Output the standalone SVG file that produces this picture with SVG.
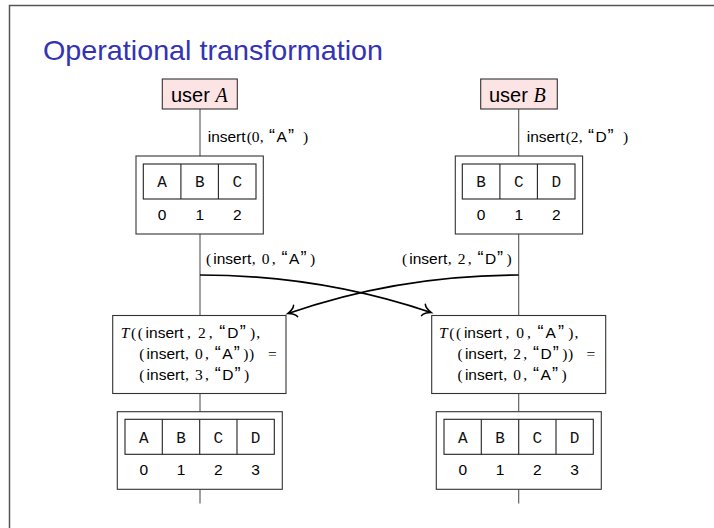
<svg xmlns="http://www.w3.org/2000/svg" width="714" height="528" viewBox="0 0 714 528">
<style>
  .frame{fill:none;stroke:#555;stroke-width:1.5}
  .title{font-family:"Liberation Sans","DejaVu Sans",sans-serif;font-size:28px;fill:#3333b3}
  .box{fill:#fff;stroke:#333;stroke-width:1.1}
  .user{fill:#fde4e4;stroke:#333;stroke-width:1.1}
  .cell{fill:none;stroke:#222;stroke-width:1.1}
  .lbl{font-family:"Liberation Sans","DejaVu Sans",sans-serif;font-size:15.5px;fill:#000}
  .m{font-family:"Liberation Serif","DejaVu Serif",serif}
  .mi{font-family:"Liberation Serif","DejaVu Serif",serif;font-style:italic}
  .q{font-size:18px}
  .ul{font-family:"Liberation Sans","DejaVu Sans",sans-serif;font-size:20px;fill:#000}
  .tt{font-family:"Liberation Mono","DejaVu Sans Mono",monospace;font-size:16px;text-anchor:middle;fill:#111}
  .idx{font-family:"Liberation Sans","DejaVu Sans",sans-serif;font-size:15.5px;text-anchor:middle;fill:#000}
  .vl{stroke:#555;stroke-width:1.1;fill:none}
  .arc{stroke:#000;stroke-width:1.7;fill:none;marker-end:url(#to)}
</style>
<defs>
  <marker id="to" markerUnits="userSpaceOnUse" markerWidth="20" markerHeight="20" refX="0" refY="0" viewBox="-10 -10 20 20" orient="auto" overflow="visible">
    <path d="M-8,-6 C-7,-3 -2,-0.6 0,0 C-2,0.6 -7,3 -8,6" fill="none" stroke="#000" stroke-width="1.6" stroke-linecap="round"/>
  </marker>
</defs>
<rect width="714" height="528" fill="#fff"/>
<path class="frame" d="M9.5,528 V5.5 H714"/>
<text class="title" x="43" y="60" textLength="340" lengthAdjust="spacingAndGlyphs">Operational transformation</text>

<g id="connectors">
  <path class="vl" d="M200,109 V156 M200,234 V315.5 M200,393.5 V411.7 M200,489.3 V503.5"/>
  <path class="vl" d="M518.7,109 V156 M518.7,234 V315.5 M518.7,393.5 V411.7 M518.7,489.3 V503.5"/>
  <path class="arc" d="M200,275 Q320,275 431,312.5"/>
  <path class="arc" d="M518.7,275 Q398.7,275 288,313.5"/>
  <text class="lbl" y="141.5"><tspan x="207.7">insert</tspan><tspan class="m" x="246.7">(</tspan><tspan class="m" x="251.7">0</tspan><tspan class="m" x="259.8">,</tspan><tspan class="q" x="269">“</tspan><tspan x="276.5">A</tspan><tspan class="q" x="288">”</tspan><tspan class="m" x="303">)</tspan></text>
  <text class="lbl" y="141.5"><tspan x="526.7">insert</tspan><tspan class="m" x="565.7">(</tspan><tspan class="m" x="570.7">2</tspan><tspan class="m" x="578.8">,</tspan><tspan class="q" x="588">“</tspan><tspan x="595.5">D</tspan><tspan class="q" x="607.5">”</tspan><tspan class="m" x="623">)</tspan></text>
  <text class="lbl" y="264"><tspan class="m" x="206">(</tspan><tspan x="213.3">insert</tspan><tspan class="m" x="251.7">,</tspan><tspan class="m" x="261.7">0</tspan><tspan class="m" x="271.7">,</tspan><tspan class="q" x="281.5">“</tspan><tspan x="289">A</tspan><tspan class="q" x="300.5">”</tspan><tspan class="m" x="310">)</tspan></text>
  <text class="lbl" y="264"><tspan class="m" x="402">(</tspan><tspan x="409.3">insert</tspan><tspan class="m" x="447.7">,</tspan><tspan class="m" x="457.7">2</tspan><tspan class="m" x="467.7">,</tspan><tspan class="q" x="477.5">“</tspan><tspan x="485">D</tspan><tspan class="q" x="497">”</tspan><tspan class="m" x="506.5">)</tspan></text>
</g>

<g id="userA">
  <rect class="user" x="162.3" y="79" width="75" height="30"/>
  <text class="ul" x="171" y="101.5">user <tspan class="mi">A</tspan></text>
</g>
<g id="userB">
  <rect class="user" x="480.7" y="79" width="76.6" height="30"/>
  <text class="ul" x="489" y="101.5">user <tspan class="mi">B</tspan></text>
</g>

<g id="arrayA1">
  <rect class="box" x="136" y="156" width="127.3" height="78"/>
  <rect class="cell" x="143.3" y="164" width="112.7" height="35"/>
  <path class="cell" d="M180.9,164 V199 M218.4,164 V199"/>
  <text class="tt" x="162.1" y="187">A</text><text class="tt" x="199.7" y="187">B</text><text class="tt" x="237.2" y="187">C</text>
  <text class="idx" x="162.1" y="219.5">0</text><text class="idx" x="199.7" y="219.5">1</text><text class="idx" x="237.2" y="219.5">2</text>
</g>
<g id="arrayB1">
  <rect class="box" x="455.3" y="156" width="127.3" height="78"/>
  <rect class="cell" x="462.3" y="164" width="112.7" height="35"/>
  <path class="cell" d="M499.9,164 V199 M537.4,164 V199"/>
  <text class="tt" x="481.1" y="187">B</text><text class="tt" x="518.7" y="187">C</text><text class="tt" x="556.2" y="187">D</text>
  <text class="idx" x="481.1" y="219.5">0</text><text class="idx" x="518.7" y="219.5">1</text><text class="idx" x="556.2" y="219.5">2</text>
</g>

<g id="transformA">
  <rect class="box" x="112.7" y="315.5" width="173.3" height="78"/>
  <text class="lbl" y="337.5"><tspan class="mi" x="120.7">T</tspan><tspan class="m" x="131">(</tspan><tspan class="m" x="137.7">(</tspan><tspan x="145.6">insert</tspan><tspan class="m" x="187.1">,</tspan><tspan class="m" x="197.9">2</tspan><tspan class="m" x="208.7">,</tspan><tspan class="q" x="219.2">“</tspan><tspan x="227.3">D</tspan><tspan class="q" x="239.7">”</tspan><tspan class="m" x="250">)</tspan><tspan class="m" x="256.2">,</tspan></text>
  <text class="lbl" y="358.5"><tspan class="m" x="139.3">(</tspan><tspan x="146.6">insert</tspan><tspan class="m" x="185">,</tspan><tspan class="m" x="195">0</tspan><tspan class="m" x="205">,</tspan><tspan class="q" x="214.8">“</tspan><tspan x="222.3">A</tspan><tspan class="q" x="233.8">”</tspan><tspan class="m" x="243.3">)</tspan><tspan class="m" x="249">)</tspan><tspan class="m" x="268">=</tspan></text>
  <text class="lbl" y="379.5"><tspan class="m" x="139.3">(</tspan><tspan x="146.6">insert</tspan><tspan class="m" x="185">,</tspan><tspan class="m" x="195">3</tspan><tspan class="m" x="205">,</tspan><tspan class="q" x="214.8">“</tspan><tspan x="222.3">D</tspan><tspan class="q" x="234.5">”</tspan><tspan class="m" x="244">)</tspan></text>
</g>
<g id="transformB">
  <rect class="box" x="431.7" y="315.5" width="174" height="78"/>
  <text class="lbl" y="337.5"><tspan class="mi" x="439">T</tspan><tspan class="m" x="449.3">(</tspan><tspan class="m" x="456">(</tspan><tspan x="463.9">insert</tspan><tspan class="m" x="505.4">,</tspan><tspan class="m" x="516.2">0</tspan><tspan class="m" x="527">,</tspan><tspan class="q" x="537.5">“</tspan><tspan x="545.6">A</tspan><tspan class="q" x="558">”</tspan><tspan class="m" x="568.3">)</tspan><tspan class="m" x="574.5">,</tspan></text>
  <text class="lbl" y="358.5"><tspan class="m" x="457.6">(</tspan><tspan x="464.9">insert</tspan><tspan class="m" x="503.3">,</tspan><tspan class="m" x="513.3">2</tspan><tspan class="m" x="523.3">,</tspan><tspan class="q" x="533.1">“</tspan><tspan x="540.6">D</tspan><tspan class="q" x="552.8">”</tspan><tspan class="m" x="562.3">)</tspan><tspan class="m" x="568">)</tspan><tspan class="m" x="586.5">=</tspan></text>
  <text class="lbl" y="379.5"><tspan class="m" x="457.6">(</tspan><tspan x="464.9">insert</tspan><tspan class="m" x="503.3">,</tspan><tspan class="m" x="513.3">0</tspan><tspan class="m" x="523.3">,</tspan><tspan class="q" x="533.1">“</tspan><tspan x="540.6">A</tspan><tspan class="q" x="552.1">”</tspan><tspan class="m" x="561.6">)</tspan></text>
</g>

<g id="arrayA2">
  <rect class="box" x="117.3" y="411.7" width="165" height="77.6"/>
  <rect class="cell" x="125" y="419.3" width="149.3" height="35"/>
  <path class="cell" d="M162.3,419.3 V454.3 M199.7,419.3 V454.3 M237,419.3 V454.3"/>
  <text class="tt" x="143.7" y="442.5">A</text><text class="tt" x="181" y="442.5">B</text><text class="tt" x="218.3" y="442.5">C</text><text class="tt" x="255.6" y="442.5">D</text>
  <text class="idx" x="143.7" y="475">0</text><text class="idx" x="181" y="475">1</text><text class="idx" x="218.3" y="475">2</text><text class="idx" x="255.6" y="475">3</text>
</g>
<g id="arrayB2">
  <rect class="box" x="436.3" y="411.7" width="165" height="77.6"/>
  <rect class="cell" x="444" y="419.3" width="149.3" height="35"/>
  <path class="cell" d="M481.3,419.3 V454.3 M518.7,419.3 V454.3 M556,419.3 V454.3"/>
  <text class="tt" x="462.7" y="442.5">A</text><text class="tt" x="500" y="442.5">B</text><text class="tt" x="537.3" y="442.5">C</text><text class="tt" x="574.6" y="442.5">D</text>
  <text class="idx" x="462.7" y="475">0</text><text class="idx" x="500" y="475">1</text><text class="idx" x="537.3" y="475">2</text><text class="idx" x="574.6" y="475">3</text>
</g>
</svg>
